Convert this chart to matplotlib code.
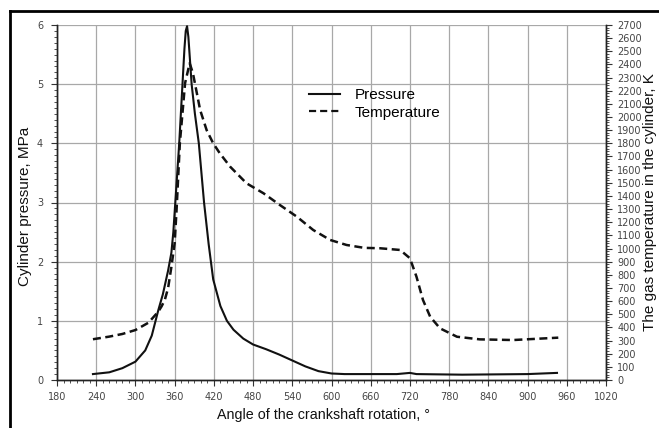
import matplotlib
matplotlib.use("Agg")
import matplotlib.pyplot as plt
from matplotlib.ticker import MultipleLocator
from matplotlib.lines import Line2D
import numpy as np

# Data
angle_p = [235, 260, 280, 300, 315, 325, 335, 342, 350, 355, 358, 361, 364, 367, 372, 375, 377, 379,
           381, 386, 391, 397, 405, 412, 419, 430, 440, 450, 465, 480, 500, 520, 540,
           560, 580, 600, 620, 700, 720, 730, 800, 900, 945]
pressure = [0.10, 0.13, 0.20, 0.31, 0.50, 0.75, 1.18, 1.45, 1.85, 2.15, 2.50, 3.00, 3.50, 4.00, 5.00, 5.60, 5.90, 5.98,
            5.80, 5.00, 4.50, 4.00, 3.00, 2.30, 1.70, 1.25, 1.00, 0.85, 0.70, 0.60, 0.52, 0.43, 0.33,
            0.23, 0.15, 0.11, 0.10, 0.10, 0.12, 0.10, 0.09, 0.10, 0.12]

angle_t = [235, 260, 280, 300, 320, 335, 340, 345, 350, 355, 360, 363, 368, 376, 383, 388, 399, 409,
           419, 429, 445, 470, 496, 521, 547, 572, 598, 623, 650, 674, 705, 720, 730, 740,
           751, 766, 792, 827, 878, 947]
temperature = [310, 330, 350, 380, 436, 520, 560, 610, 700, 860, 1040, 1300, 1803, 2259, 2409, 2333, 2054, 1900,
               1800, 1725, 1622, 1496, 1420, 1331, 1242, 1141, 1065, 1027, 1005, 1002, 989, 926, 786, 608,
               481, 393, 329, 309, 304, 322]

x_ticks = list(range(180, 1021, 60))

W, H = 659, 428
fig = plt.figure(figsize=(W / 100, H / 100), dpi=100)
ax = fig.add_axes([57 / W, 1 - 380 / H, (606 - 57) / W, (380 - 25) / H])
ax2 = ax.twinx()

lc = "#111111"
ax.plot(angle_p, pressure, color=lc, lw=1.5, label="Pressure", zorder=3)
ax.plot([], [], color=lc, lw=1.6, ls=(0, (3.2, 1.8)), label="Temperature")
ax2.plot(angle_t, temperature, color=lc, lw=1.8, ls=(0, (3.2, 1.8)), zorder=3)

ax.set_xlim(180, 1020)
ax.set_ylim(0, 6)
ax2.set_ylim(0, 2700)

ax.set_xticks(x_ticks)
ax.xaxis.set_minor_locator(MultipleLocator(10))
ax.yaxis.set_major_locator(MultipleLocator(1))
ax.yaxis.set_minor_locator(MultipleLocator(0.1))
ax2.yaxis.set_major_locator(MultipleLocator(100))
ax2.yaxis.set_minor_locator(MultipleLocator(20))

ax.grid(True, which="major", color="#a8a8a8", lw=0.9)
ax.set_axisbelow(True)

tick_font = dict(labelsize=7, labelcolor="#444444", colors="#333333")
ax.tick_params(axis="x", which="major", direction="out", length=4, width=0.8, pad=5, **tick_font)
ax.tick_params(axis="y", which="major", direction="out", length=4, width=0.8, pad=6, **tick_font)
ax.tick_params(axis="both", which="minor", direction="out", length=2.5, width=0.6, colors="#333333")
ax2.tick_params(axis="y", which="major", direction="out", length=4, width=0.8, pad=4, **tick_font)
ax2.tick_params(axis="y", which="minor", direction="out", length=2.5, width=0.6, colors="#333333")

for a in (ax, ax2):
    a.spines["top"].set_visible(False)
    for s in ("left", "bottom", "right"):
        a.spines[s].set_color("#222222")
        a.spines[s].set_linewidth(1.0)

lab_font = "Liberation Sans"
ax.set_xlabel("Angle of the crankshaft rotation, \u00b0", fontsize=10.3, family=lab_font,
              color="#111111")
ax.xaxis.set_label_coords((217 - 57) / (606 - 57), -(415 - 380) / 355)
ax.xaxis.label.set_horizontalalignment("left")
ax.xaxis.label.set_verticalalignment("center")
ax.set_ylabel("Cylinder pressure, MPa", fontsize=11, family=lab_font, color="#111111")
ax.yaxis.set_label_coords(-0.058, 0.49)
ax.yaxis.label.set_verticalalignment("center")
ax2.set_ylabel("The gas temperature in the cylinder, K", fontsize=11, family=lab_font,
               color="#111111", rotation=90)
ax2.yaxis.set_label_coords(1.08, 0.5)
ax2.yaxis.label.set_verticalalignment("center")

leg = ax.legend(loc="upper left", bbox_to_anchor=(309 / W, 1 - 88 / H),
                bbox_transform=fig.transFigure, frameon=False,
                prop=dict(family=lab_font, size=11), handlelength=2.0,
                handletextpad=1.0, labelspacing=0.25, borderaxespad=0, borderpad=0)

# outer frame (left and top edges)
fig.add_artist(Line2D([10 / W, 10 / W], [0, 1 - 11 / H], transform=fig.transFigure,
                      color="black", lw=2))
fig.add_artist(Line2D([10 / W, 1], [1 - 11 / H, 1 - 11 / H], transform=fig.transFigure,
                      color="black", lw=2))

fig.savefig("out.png", dpi=100)
